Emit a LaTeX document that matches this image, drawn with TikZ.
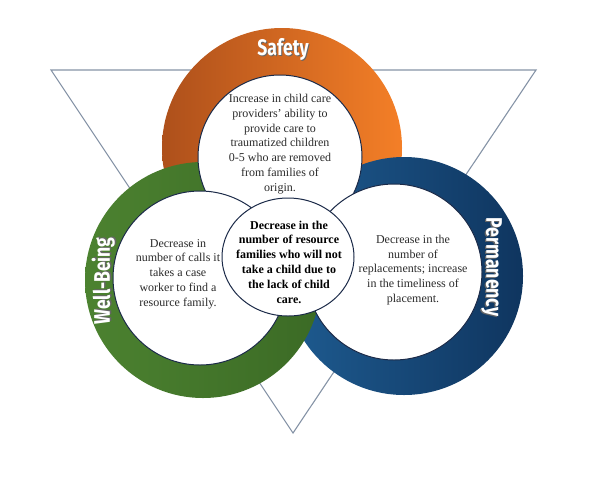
\documentclass[tikz,border=0pt]{standalone}
\usepackage{fontspec}
\usepackage{graphicx}
\setmainfont{Liberation Serif}
\newfontfamily\ringfont{Fira Sans}
\definecolor{triline}{HTML}{8593A6}
\definecolor{safetyL}{HTML}{AE501B}
\definecolor{safetyR}{HTML}{F47F27}
\definecolor{wellL}{HTML}{4C8230}
\definecolor{wellR}{HTML}{3B6A25}
\definecolor{permL}{HTML}{1E5B90}
\definecolor{permR}{HTML}{0F355F}
\definecolor{holeline}{HTML}{1B2A48}
\definecolor{textgray}{HTML}{2B2B2B}
\newcommand{\ringtext}[1]{\scalebox{0.78}[1]{\rlap{\raisebox{-1.3pt}{\kern1.3pt\color{black!60}#1}}#1}}
\begin{document}
\begin{tikzpicture}[x=1pt,y=-1pt,
  hole/.style={fill=white,draw=holeline,line width=1pt},
  txt/.style={align=center,text=textgray,font=\fontsize{12}{14.8}\selectfont},
  ringname/.style={text=white,font=\ringfont\bfseries\fontsize{22.5}{22.5}\selectfont}]
  \useasboundingbox (0,0) rectangle (594,480);

  \coordinate (tl) at (51,70);
  \coordinate (tr) at (536,70);
  \coordinate (bt) at (293,433);
  \draw[color=triline,line width=1.1pt] (tl) -- (tr) -- (bt) -- cycle;

  % rings
  \shade[left color=safetyL,right color=safetyR] (282,148) circle [radius=120pt];
  \shade[left color=permL,right color=permR] (404,276) circle [radius=119pt];
  \shade[left color=wellL,right color=wellR] (203,280) circle [radius=118pt];

  % white holes
  \draw[hole] (280,157) circle [radius=82pt];
  \draw[hole] (200,278) circle [radius=87pt];
  \draw[hole] (394,272) circle [radius=88pt];
  \draw[hole] (288,257) ellipse [x radius=66pt,y radius=59pt];

  \node[ringname] (safetyname) at (283,50) {\ringtext{Safety}};
  \node[ringname,rotate=90] (wellname) at (104,281) {\ringtext{Well-Being}};
  \node[ringname,rotate=-90] (permname) at (491,267) {\ringtext{Permanency}};

  \node[txt] (safetytext) at (280,144) {Increase in child care\\providers’ ability to\\provide care to\\traumatized children\\0-5 who are removed\\from families of\\origin.};
  \node[txt] (welltext) at (178,274) {Decrease in\\number of calls it\\takes a case\\worker to find a\\resource family.};
  \node[txt] (permtext) at (413,270) {Decrease in the\\number of\\replacements; increase\\in the timeliness of\\placement.};
  \node[txt,text=black,font=\bfseries\fontsize{12}{14.8}\selectfont] (centertext) at (289,262) {Decrease in the\\number of resource\\families who will not\\take a child due to\\the lack of child\\care.};
\end{tikzpicture}
\end{document}
